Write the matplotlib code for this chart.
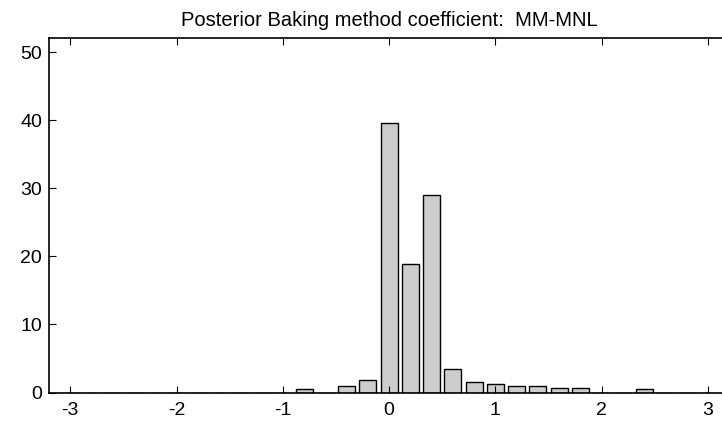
import numpy as np
import matplotlib.pyplot as plt

plt.rcParams['font.family'] = ['Liberation Sans', 'DejaVu Sans']
plt.rcParams['axes.unicode_minus'] = False

# histogram bins (centres) and bar heights
bin_centers = np.linspace(-3.0, 3.0, 31)
counts = [0, 0, 0, 0, 0, 0, 0, 0, 0, 0,
          0, 0.45, 0, 0.9, 1.8, 39.6, 18.9, 29.0, 3.4, 1.55,
          1.3, 0.9, 0.9, 0.6, 0.6, 0, 0, 0.45, 0, 0, 0]
title = "Posterior Baking method coefficient:  MM-MNL"
x_ticks = [-3, -2, -1, 0, 1, 2, 3]
y_ticks = [0, 10, 20, 30, 40, 50]

fig = plt.figure(figsize=(7.22, 4.24), dpi=100)
# the right side of the axes runs off the figure, as in the original
ax = fig.add_axes([49/722, 1 - 392.5/424, 680/722, 355/424])

ax.bar(bin_centers, counts, width=0.16, color='#cccccc',
       edgecolor='black', linewidth=1.0)

ax.set_xlim(-3.2, 3.2)
ax.set_ylim(0, 52.2)
ax.set_xticks(x_ticks)
ax.set_yticks(y_ticks)
ax.tick_params(direction='in', top=True, right=True, length=5,
               width=0.8, labelsize=14, pad=5)
ax.tick_params(axis='x', pad=7)
for s in ax.spines.values():
    s.set_linewidth(1.2)

ax.set_title(title, fontsize=14.5, pad=8)

fig.savefig("out.png", dpi=100)
